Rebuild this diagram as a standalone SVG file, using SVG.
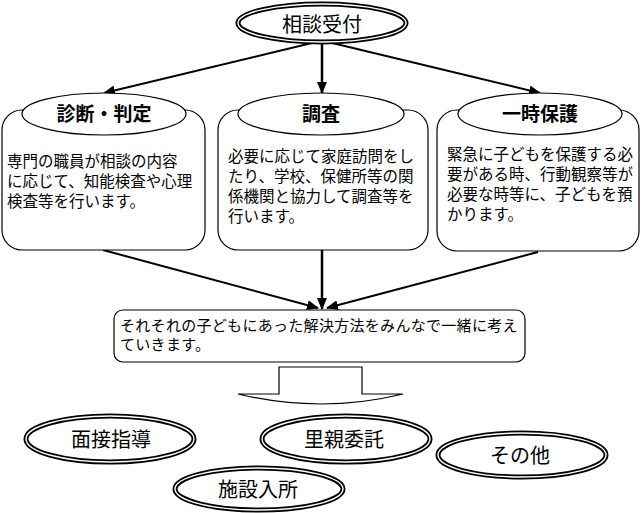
<svg xmlns="http://www.w3.org/2000/svg" width="641" height="513" viewBox="0 0 641 513">
<style>
  text { font-family: "Noto Sans CJK JP", "Noto Sans CJK SC", sans-serif; fill: #000; }
  .dbl-o { fill: #fff; stroke: #000; stroke-width: 5; }
  .dbl-i { fill: none; stroke: #fff; stroke-width: 1.4; }
  .hdr { fill: #fff; stroke: #000; stroke-width: 1.2; }
  .box { fill: #fff; stroke: #000; stroke-width: 1.2; }
  .big { font-size: 20px; text-anchor: middle; }
  .head { font-size: 19px; font-weight: bold; text-anchor: middle; }
  .body { font-size: 15.5px; }
  .res { font-size: 15px; letter-spacing: 0.3px; }
  .conn { stroke: #000; stroke-width: 2; fill: none; marker-end: url(#arr); }
</style>
<defs>
  <marker id="arr" markerUnits="userSpaceOnUse" markerWidth="12" markerHeight="10" viewBox="0 0 12 10" refX="11" refY="5" orient="auto">
    <path d="M0,0 L12,5 L0,10 Z" fill="#000"/>
  </marker>
</defs>
<rect width="641" height="513" fill="#fff"/>

<g id="connectors">
  <line class="conn" x1="316" y1="42" x2="104" y2="93"/>
  <line class="conn" x1="322" y1="43" x2="322" y2="93" style="stroke-width:2.5"/>
  <line class="conn" x1="328" y1="42" x2="540" y2="93"/>
  <line class="conn" x1="103" y1="250" x2="318" y2="308"/>
  <line class="conn" x1="322" y1="250" x2="322" y2="309" style="stroke-width:2.5"/>
  <line class="conn" x1="538" y1="252" x2="327" y2="308"/>
</g>

<g id="uketsuke">
  <ellipse class="dbl-o" cx="322" cy="23" rx="84" ry="19"/>
  <ellipse class="dbl-i" cx="322" cy="23" rx="84" ry="19"/>
  <text class="big" x="322" y="32">相談受付</text>
</g>

<g id="shindan">
  <rect class="box" x="2" y="110" width="203" height="140" rx="20" ry="20"/>
  <ellipse class="hdr" cx="104" cy="114" rx="82" ry="21"/>
  <text class="head" x="104" y="121">診断・判定</text>
  <text class="body" x="7" y="167">専門の職員が相談の内容</text>
  <text class="body" x="7" y="187">に応じて、知能検査や心理</text>
  <text class="body" x="7" y="207">検査等を行います。</text>
</g>

<g id="chousa">
  <rect class="box" x="218" y="110" width="210" height="140" rx="20" ry="20"/>
  <ellipse class="hdr" cx="321" cy="114" rx="83" ry="21"/>
  <text class="head" x="321" y="121">調査</text>
  <text class="body" x="228" y="162">必要に応じて家庭訪問をし</text>
  <text class="body" x="228" y="182">たり、学校、保健所等の関</text>
  <text class="body" x="228" y="202">係機関と協力して調査等を</text>
  <text class="body" x="228" y="222">行います。</text>
</g>

<g id="ichijihogo">
  <rect class="box" x="437" y="110" width="202" height="141" rx="20" ry="20"/>
  <ellipse class="hdr" cx="540" cy="114" rx="82" ry="21"/>
  <text class="head" x="540" y="121">一時保護</text>
  <text class="body" x="447" y="160">緊急に子どもを保護する必</text>
  <text class="body" x="447" y="180">要がある時、行動観察等が</text>
  <text class="body" x="447" y="200">必要な時等に、子どもを預</text>
  <text class="body" x="447" y="220">かります。</text>
</g>

<g id="kaiketsu">
  <rect class="box" x="114" y="310" width="411" height="52" rx="9" ry="9"/>
  <text class="res" x="120" y="330.5">それそれの子どもにあった解決方法をみんなで一緒に考え</text>
  <text class="res" x="120" y="349.5">ていきます。</text>
</g>

<g id="block-arrow">
  <path d="M279,367 H362 V394 H403 Q321,414 238,394 H279 Z" fill="#fff" stroke="#000" stroke-width="1.2"/>
</g>

<g id="mensetsu">
  <ellipse class="dbl-o" cx="110" cy="439" rx="84" ry="23"/>
  <ellipse class="dbl-i" cx="110" cy="439" rx="84" ry="23"/>
  <text class="big" x="111" y="447">面接指導</text>
</g>

<g id="satooya">
  <ellipse class="dbl-o" cx="346" cy="439" rx="84" ry="23"/>
  <ellipse class="dbl-i" cx="346" cy="439" rx="84" ry="23"/>
  <text class="big" x="344" y="447">里親委託</text>
</g>

<g id="sonota">
  <ellipse class="dbl-o" cx="522" cy="455" rx="84" ry="22"/>
  <ellipse class="dbl-i" cx="522" cy="455" rx="84" ry="22"/>
  <text class="big" x="520" y="463">その他</text>
</g>

<g id="shisetsu">
  <ellipse class="dbl-o" cx="259" cy="489" rx="84" ry="21"/>
  <ellipse class="dbl-i" cx="259" cy="489" rx="84" ry="21"/>
  <text class="big" x="258" y="497">施設入所</text>
</g>
</svg>
